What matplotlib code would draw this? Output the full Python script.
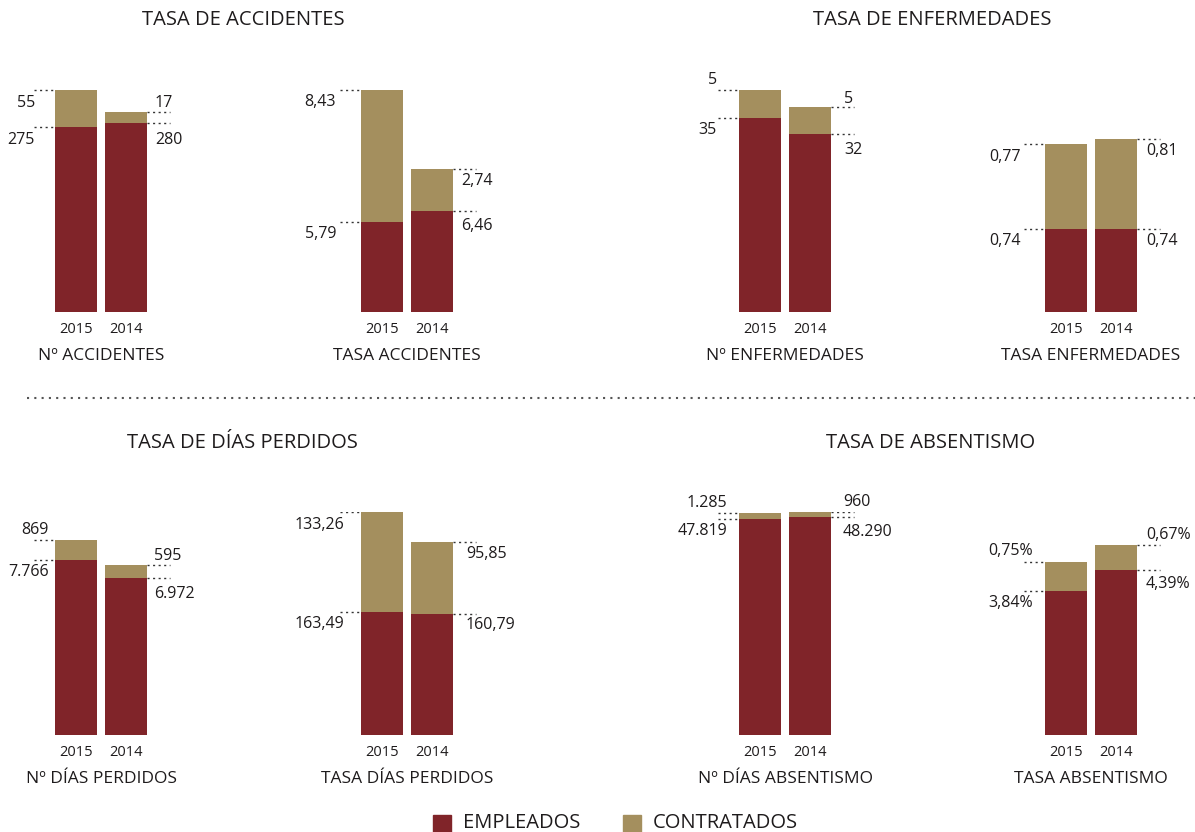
import matplotlib
matplotlib.use('Agg')
import matplotlib.pyplot as plt
from matplotlib.patches import Rectangle
from matplotlib.lines import Line2D

plt.rcParams['font.family'] = ['Open Sans', 'DejaVu Sans']

# data
names = ['Nº ACCIDENTES', 'TASA ACCIDENTES', 'Nº ENFERMEDADES', 'TASA ENFERMEDADES',
         'Nº DÍAS PERDIDOS', 'TASA DÍAS PERDIDOS', 'Nº DÍAS ABSENTISMO', 'TASA ABSENTISMO']
titles = ['TASA DE ACCIDENTES', 'TASA DE ENFERMEDADES', 'TASA DE DÍAS PERDIDOS', 'TASA DE ABSENTISMO']
years = ['2015', '2014']
empleados = [[275, 280], [5.79, 6.46], [35, 32], [0.74, 0.74],
             [7766, 6972], [163.49, 160.79], [47819, 48290], [3.84, 4.39]]
contratados = [[55, 17], [8.43, 2.74], [5, 5], [0.77, 0.81],
               [869, 595], [133.26, 95.85], [1285, 960], [0.75, 0.67]]
decimals = [0, 2, 0, 2, 0, 2, 0, 2]
suffix = ['', '', '', '', '', '', '', '%']

# layout / style
W, H = 1195, 832
RED = '#802429'
GOLD = '#A48F5E'
TXT = '#1e1b1c'
ymax = [331, 14.3, 40.2, 2.0, 9900, 297, 49300, 5.93]
centers = [76, 382, 760, 1066]
baselines = [312, 735]
AXH = 223
BW = 0.84
# label offsets in px (2015 contr, 2015 empl, 2014 contr, 2014 empl)
offs = [[-13, -13, 9, -17], [-12, -12, -12, -15], [10, -12, 8, -16], [-13, -12, -12, -12],
        [10, -12, 9, -16], [-13, -12, -12, -11], [10, -12, 10, -15], [11, -12, 10, -14]]
# horizontal gap (px) between bar and its labels: left side, right side
lgap = [20, 25, 22, 24, 6, 17, 12, 12]
rgap = [8, 8, 13, 9, 7, 13, 12, 9]


def fmt(v, d, s):
    t = f'{v:,.{d}f}'
    t = t.replace(',', 'X').replace('.', ',').replace('X', '.')
    return t + s


fig = plt.figure(figsize=(W / 100, H / 100), dpi=100)
h = BW / 2

for i in range(8):
    row, col = i // 4, i % 4
    left = centers[col] - 75
    base = baselines[row]
    ax = fig.add_axes([left / W, (H - base) / H, 200 / W, AXH / H])
    e = empleados[i]
    c = contratados[i]
    ax.bar([0, 1], e, width=BW, color=RED)
    ax.bar([0, 1], c, width=BW, bottom=e, color=GOLD)
    ax.set_xlim(-1.5, 2.5)
    ax.set_ylim(0, ymax[i])
    for s in ax.spines.values():
        s.set_visible(False)
    ax.set_yticks([])
    ax.set_xticks([0, 1])
    ax.set_xticklabels(years, fontsize=10.5, color=TXT)
    ax.tick_params(axis='x', length=0, pad=7)
    ax.set_xlabel(names[i], fontsize=12.5, color=TXT, labelpad=8)

    o = offs[i]
    # 2015 labels on the left, 2014 on the right
    for y, v, k in [(e[0] + c[0], c[0], 0), (e[0], e[0], 1)]:
        ax.plot([-h - 0.43, -h], [y, y], ls=(0, (1.5, 2.5)), lw=1, color='#333333')
        ax.annotate(fmt(v, decimals[i], suffix[i]), (-h - lgap[i] / 50, y), xytext=(0, o[k] * 0.72),
                    textcoords='offset points', ha='right', va='center', fontsize=11.5, color=TXT)
    for y, v, k in [(e[1] + c[1], c[1], 2), (e[1], e[1], 3)]:
        ax.plot([1 + h, 1 + h + 0.45], [y, y], ls=(0, (1.5, 2.5)), lw=1, color='#333333')
        ax.annotate(fmt(v, decimals[i], suffix[i]), (1 + h + rgap[i] / 50, y), xytext=(0, o[k] * 0.72),
                    textcoords='offset points', ha='left', va='center', fontsize=11.5, color=TXT)

# group titles
for k, (x, y) in enumerate([(243, 20), (932, 20), (242, 443), (931, 443)]):
    fig.text(x / W, 1 - y / H, titles[k], ha='center', va='center', fontsize=14.5, color=TXT)

# dotted separator
fig.add_artist(Line2D([27 / W, 1], [1 - 398 / H] * 2, ls=(0, (1, 2.5)), lw=1.5, color='#555555'))

# legend
for x, lab, col in [(433, 'EMPLEADOS', RED), (623, 'CONTRATADOS', GOLD)]:
    fig.add_artist(Rectangle((x / W, 1 - 832 / H), 18 / W, 17 / H, color=col))
    fig.text((x + 30) / W, 1 - 823 / H, lab, ha='left', va='center', fontsize=14.5, color=TXT)

fig.savefig('out.png', dpi=100)
